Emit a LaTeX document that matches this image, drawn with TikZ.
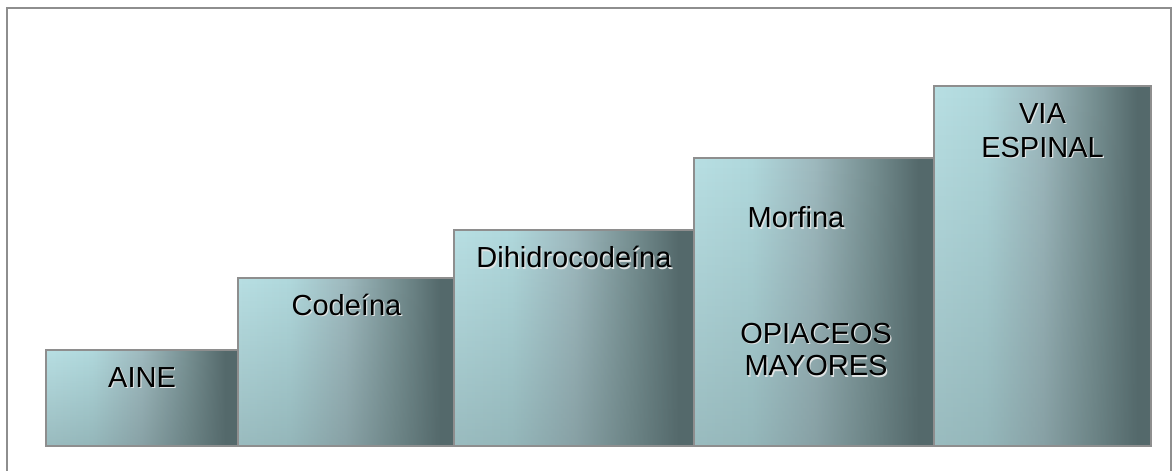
\documentclass[tikz,border=0pt]{standalone}
\usepackage{fontspec}
\setmainfont{Liberation Sans}
\usetikzlibrary{fadings}
\definecolor{framegray}{RGB}{142,142,142}
\definecolor{lightc}{RGB}{184,223,227}
\definecolor{lightc2}{RGB}{176,216,220}
\definecolor{midc}{RGB}{158,185,190}
\definecolor{midc2}{RGB}{118,143,145}
\definecolor{darkc}{RGB}{84,105,107}
\definecolor{shadowc}{RGB}{225,228,228}
\pgfdeclarehorizontalshading{boxshade}{100bp}{color(0bp)=(lightc); color(25bp)=(lightc); color(37bp)=(lightc2); color(50bp)=(midc); color(62bp)=(midc2); color(72bp)=(darkc); color(100bp)=(darkc)}
\tikzset{
  stepbox/.style={draw=framegray, line width=1.4pt, rectangle, inner sep=0pt, outer sep=0pt,
    anchor=south west, shading=boxshade,
    path picture={\fill[darkc, path fading=north, opacity=0.3]
      (path picture bounding box.south west) rectangle (path picture bounding box.north east);}},
  lbl/.style={font=\fontsize{29}{33}\selectfont, text=black, inner sep=0pt, anchor=base, align=center},
  lblshadow/.style={lbl, text=shadowc},
}
\begin{document}
\begin{tikzpicture}[x=1pt,y=1pt]
\useasboundingbox (0,0) rectangle (1173,471);
\draw[framegray, line width=1.5pt] (7,0) -- (7,463) -- (1171,463) -- (1171,0);
% boxes
\node[stepbox, minimum width=192pt, minimum height=96pt]  (b1) at (46,25) {};
\node[stepbox, minimum width=216pt, minimum height=168pt] (b2) at (238,25) {};
\node[stepbox, minimum width=240pt, minimum height=216pt] (b3) at (454,25) {};
\node[stepbox, minimum width=240pt, minimum height=288pt] (b4) at (694,25) {};
\node[stepbox, minimum width=217pt, minimum height=360pt] (b5) at (934,25) {};
% labels (shadow + text)
\node[lblshadow] (t1s) at (143.2,82.3) {AINE};
\node[lbl] (t1) at (142,83.5) {AINE};
\node[lblshadow] (t2s) at (347.7,154.3) {Codeína};
\node[lbl] (t2) at (346.5,155.5) {Codeína};
\node[lblshadow] (t3s) at (575.2,201.8) {Dihidrocodeína};
\node[lbl] (t3) at (574,203) {Dihidrocodeína};
\node[lblshadow] (t4s) at (797.2,241.8) {Morfina};
\node[lbl] (t4) at (796,243) {Morfina};
\node[lblshadow, font=\fontsize{29}{32.5}\selectfont] (t5s) at (817.2,93.8) {OPIACEOS\\MAYORES};
\node[lbl, font=\fontsize{29}{32.5}\selectfont] (t5) at (816,95) {OPIACEOS\\MAYORES};
\node[lblshadow, font=\fontsize{29}{34}\selectfont] (t6s) at (1043.7,312.3) {VIA\\ESPINAL};
\node[lbl, font=\fontsize{29}{34}\selectfont] (t6) at (1042.5,313.5) {VIA\\ESPINAL};
\end{tikzpicture}
\end{document}
